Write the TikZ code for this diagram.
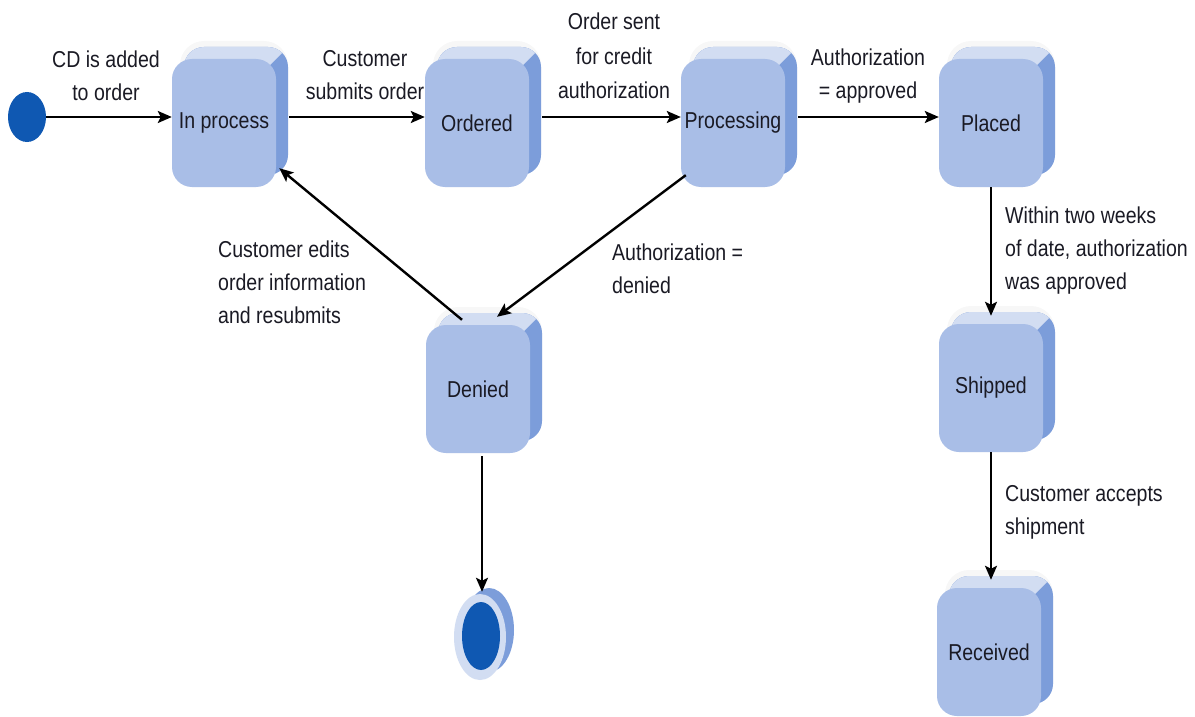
\documentclass[tikz,border=0pt]{standalone}
\usepackage{fontspec}
\setmainfont{Liberation Sans}[FakeStretch=0.85]
\usetikzlibrary{arrows.meta,calc,shapes.geometric}
\definecolor{facec}{HTML}{A9BEE7}
\definecolor{topc}{HTML}{D2DDF2}
\definecolor{sidec}{HTML}{7C9DDA}
\definecolor{dotc}{HTML}{0F58B2}
\definecolor{txtc}{HTML}{1A1A24}
\newcommand\stateback[2]{%
  \fill[black,opacity=0.03,rounded corners=24pt] (#1-44,#2-82) rectangle (#1+64,#2+40);
  \fill[sidec,rounded corners=20pt] (#1-40,#2-76) rectangle (#1+64,#2+52);
  \begin{scope}
    \clip[rounded corners=20pt] (#1-40,#2-76) rectangle (#1+64,#2+52);
    \fill[topc] (#1+76,#2-88) -- (#1-14,#2+2) -- (#1-92,#2+2) -- (#1-92,#2-124) -- (#1+76,#2-124) -- cycle;
  \end{scope}}
\begin{document}
\begin{tikzpicture}[x=1pt,y=-1pt,
  statebox/.style={draw=none,fill=facec,rounded corners=20pt,minimum width=104pt,minimum height=128pt,
    inner sep=0pt,font=\fontsize{23}{33}\selectfont,text=txtc},
  lbl/.style={inner sep=0pt,font=\fontsize{23}{33}\selectfont,text=txtc},
  conn/.style={line width=2.4pt,-{Stealth[length=14pt,width=12pt,inset=3pt]}}]
\useasboundingbox[fill=white] (0,0) rectangle (1195,717);

% backgrounds of the 3D boxes
\stateback{224}{123}
\stateback{477}{123}
\stateback{733}{123}
\stateback{991}{123}
\stateback{478}{389}
\stateback{991}{388}
\stateback{989}{652}

% states
\node[statebox] (inproc) at (224,123) {In process};
\node[statebox] (ordered) at (477,123) {Ordered};
\node[statebox] (processing) at (733,123) {Processing};
\node[statebox] (placed) at (991,123) {Placed};
\node[statebox] (denied) at (478,389) {Denied};
\node[statebox] (shipped) at (991,388) {Shipped};
\node[statebox] (received) at (989,652) {Received};

% initial and final states
\node[ellipse,fill=dotc,minimum width=38pt,minimum height=50pt,inner sep=0pt] (init) at (27,117) {};
\fill[sidec] (489,630) ellipse [x radius=25pt,y radius=42pt];
\node[ellipse,fill=topc,minimum width=52pt,minimum height=86pt,inner sep=0pt] (final) at (480,637) {};
\node[ellipse,fill=dotc,minimum width=38pt,minimum height=68pt,inner sep=0pt] (finalin) at (481,636) {};

% transitions
\draw[conn] (init.east) -- ($(inproc.west)+(0,-6)$);
\draw[conn] ($(inproc.east)+(13,-6)$) -- ($(ordered.west)+(0,-6)$);
\draw[conn] ($(ordered.east)+(13,-6)$) -- ($(processing.west)+(0,-6)$);
\draw[conn] ($(processing.east)+(13,-6)$) -- ($(placed.west)+(0,-6)$);
\draw[conn] ($(processing.south west)+(5,-12)$) -- ($(denied.north)+(19,-8)$);
\draw[conn] ($(denied.north)+(-16,-5)$) -- ($(inproc.south east)+(3,-19)$);
\draw[conn] ($(denied.south)+(4,3)$) -- ($(final.north)+(2,-2)$);
\draw[conn] (placed.south) -- ($(shipped.north)+(0,-8)$);
\draw[conn] (shipped.south) -- ($(received.north)+(2,-8)$);

% labels
\node[lbl,align=center,anchor=north] (l1) at (106,51) {CD is added\\to order};
\node[lbl,align=center,anchor=north] (l2) at (365,50) {Customer\\submits order};
\node[lbl,align=center,anchor=north,font=\fontsize{23}{34.5}\selectfont] (l3) at (614,13) {Order sent\\for credit\\authorization};
\node[lbl,align=center,anchor=north] (l4) at (868,49) {Authorization\\= approved};
\node[lbl,align=left,anchor=north west] (l5) at (218,241) {Customer edits\\order information\\and resubmits};
\node[lbl,align=left,anchor=north west] (l6) at (612,244) {Authorization =\\denied};
\node[lbl,align=left,anchor=north west] (l7) at (1005,207) {Within two weeks\\of date, authorization\\was approved};
\node[lbl,align=left,anchor=north west] (l8) at (1005,485) {Customer accepts\\shipment};
\end{tikzpicture}
\end{document}
